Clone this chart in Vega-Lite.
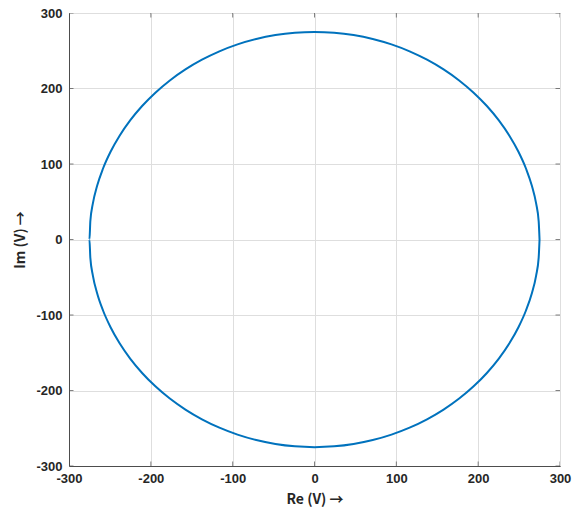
{
  "$schema": "https://vega.github.io/schema/vega-lite/v6.json",
  "autosize": {"type": "none"},
  "padding": {"left": 69, "top": 13, "right": 17, "bottom": 46},
  "width": 491,
  "height": 453,
  "background": "white",
  "config": {
    "view": {"stroke": "#4d4d4d", "strokeWidth": 1},
    "font": "Liberation Sans",
    "axis": {
      "labelFont": "Liberation Sans",
      "labelFontSize": 13,
      "labelFontWeight": "bold",
      "labelColor": "#262626",
      "titleFont": "Noto Sans CJK SC",
      "titleFontSize": 14,
      "titleFontWeight": "bold",
      "titleColor": "#262626",
      "domainColor": "#4d4d4d",
      "gridColor": "#dedede",
      "gridWidth": 1,
      "ticks": false
    }
  },
  "datasets": {
    "ticks": [{"v": -300}, {"v": -200}, {"v": -100}, {"v": 0}, {"v": 100}, {"v": 200}, {"v": 300}]
  },
  "data": {"values": [
    {"i": 0, "re": 275, "im": 0},
    {"i": 1, "re": 273.95, "im": 23.97},
    {"i": 2, "re": 270.82, "im": 47.75},
    {"i": 3, "re": 265.63, "im": 71.18},
    {"i": 4, "re": 258.42, "im": 94.06},
    {"i": 5, "re": 249.23, "im": 116.22},
    {"i": 6, "re": 238.16, "im": 137.5},
    {"i": 7, "re": 225.27, "im": 157.73},
    {"i": 8, "re": 210.66, "im": 176.77},
    {"i": 9, "re": 194.45, "im": 194.45},
    {"i": 10, "re": 176.77, "im": 210.66},
    {"i": 11, "re": 157.73, "im": 225.27},
    {"i": 12, "re": 137.5, "im": 238.16},
    {"i": 13, "re": 116.22, "im": 249.23},
    {"i": 14, "re": 94.06, "im": 258.42},
    {"i": 15, "re": 71.18, "im": 265.63},
    {"i": 16, "re": 47.75, "im": 270.82},
    {"i": 17, "re": 23.97, "im": 273.95},
    {"i": 18, "re": 0, "im": 275},
    {"i": 19, "re": -23.97, "im": 273.95},
    {"i": 20, "re": -47.75, "im": 270.82},
    {"i": 21, "re": -71.18, "im": 265.63},
    {"i": 22, "re": -94.06, "im": 258.42},
    {"i": 23, "re": -116.22, "im": 249.23},
    {"i": 24, "re": -137.5, "im": 238.16},
    {"i": 25, "re": -157.73, "im": 225.27},
    {"i": 26, "re": -176.77, "im": 210.66},
    {"i": 27, "re": -194.45, "im": 194.45},
    {"i": 28, "re": -210.66, "im": 176.77},
    {"i": 29, "re": -225.27, "im": 157.73},
    {"i": 30, "re": -238.16, "im": 137.5},
    {"i": 31, "re": -249.23, "im": 116.22},
    {"i": 32, "re": -258.42, "im": 94.06},
    {"i": 33, "re": -265.63, "im": 71.18},
    {"i": 34, "re": -270.82, "im": 47.75},
    {"i": 35, "re": -273.95, "im": 23.97},
    {"i": 36, "re": -275, "im": 0},
    {"i": 37, "re": -273.95, "im": -23.97},
    {"i": 38, "re": -270.82, "im": -47.75},
    {"i": 39, "re": -265.63, "im": -71.18},
    {"i": 40, "re": -258.42, "im": -94.06},
    {"i": 41, "re": -249.23, "im": -116.22},
    {"i": 42, "re": -238.16, "im": -137.5},
    {"i": 43, "re": -225.27, "im": -157.73},
    {"i": 44, "re": -210.66, "im": -176.77},
    {"i": 45, "re": -194.45, "im": -194.45},
    {"i": 46, "re": -176.77, "im": -210.66},
    {"i": 47, "re": -157.73, "im": -225.27},
    {"i": 48, "re": -137.5, "im": -238.16},
    {"i": 49, "re": -116.22, "im": -249.23},
    {"i": 50, "re": -94.06, "im": -258.42},
    {"i": 51, "re": -71.18, "im": -265.63},
    {"i": 52, "re": -47.75, "im": -270.82},
    {"i": 53, "re": -23.97, "im": -273.95},
    {"i": 54, "re": 0, "im": -275},
    {"i": 55, "re": 23.97, "im": -273.95},
    {"i": 56, "re": 47.75, "im": -270.82},
    {"i": 57, "re": 71.18, "im": -265.63},
    {"i": 58, "re": 94.06, "im": -258.42},
    {"i": 59, "re": 116.22, "im": -249.23},
    {"i": 60, "re": 137.5, "im": -238.16},
    {"i": 61, "re": 157.73, "im": -225.27},
    {"i": 62, "re": 176.77, "im": -210.66},
    {"i": 63, "re": 194.45, "im": -194.45},
    {"i": 64, "re": 210.66, "im": -176.77},
    {"i": 65, "re": 225.27, "im": -157.73},
    {"i": 66, "re": 238.16, "im": -137.5},
    {"i": 67, "re": 249.23, "im": -116.22},
    {"i": 68, "re": 258.42, "im": -94.06},
    {"i": 69, "re": 265.63, "im": -71.18},
    {"i": 70, "re": 270.82, "im": -47.75},
    {"i": 71, "re": 273.95, "im": -23.97},
    {"i": 72, "re": 275, "im": 0}
  ]},
  "encoding": {
    "x": {"type": "quantitative",
          "scale": {"domain": [-300, 300], "nice": false, "zero": false},
          "axis": {"values": [-300, -200, -100, 0, 100, 200, 300], "title": "Re (V)  →", "labelPadding": 6, "titlePadding": 7, "labelFlush": false, "labelOverlap": false, "labelExpr": "'' + datum.value"}},
    "y": {"type": "quantitative",
          "scale": {"domain": [-300, 300], "nice": false, "zero": false},
          "axis": {"values": [-300, -200, -100, 0, 100, 200, 300], "title": "Im (V) →", "labelPadding": 7, "titlePadding": 8, "labelFlush": false, "labelOverlap": false, "labelExpr": "'' + datum.value"}}
  },
  "layer": [
    {
      "mark": {"type": "line", "color": "#0072BD", "strokeWidth": 2, "interpolate": "monotone"},
      "encoding": {
        "x": {"field": "re", "type": "quantitative"},
        "y": {"field": "im", "type": "quantitative"},
        "order": {"field": "i", "type": "quantitative"}
      }
    },
    {
      "data": {"name": "ticks"},
      "mark": {"type": "tick", "orient": "vertical", "size": 9, "thickness": 1, "color": "#4d4d4d", "clip": true},
      "encoding": {"x": {"field": "v", "type": "quantitative"}, "y": {"datum": -300}}
    },
    {
      "data": {"name": "ticks"},
      "mark": {"type": "tick", "orient": "vertical", "size": 9, "thickness": 1, "color": "#4d4d4d", "clip": true},
      "encoding": {"x": {"field": "v", "type": "quantitative"}, "y": {"datum": 300}}
    },
    {
      "data": {"name": "ticks"},
      "mark": {"type": "tick", "orient": "horizontal", "size": 9, "thickness": 1, "color": "#4d4d4d", "clip": true},
      "encoding": {"y": {"field": "v", "type": "quantitative"}, "x": {"datum": -300}}
    },
    {
      "data": {"name": "ticks"},
      "mark": {"type": "tick", "orient": "horizontal", "size": 9, "thickness": 1, "color": "#4d4d4d", "clip": true},
      "encoding": {"y": {"field": "v", "type": "quantitative"}, "x": {"datum": 300}}
    }
  ]
}
